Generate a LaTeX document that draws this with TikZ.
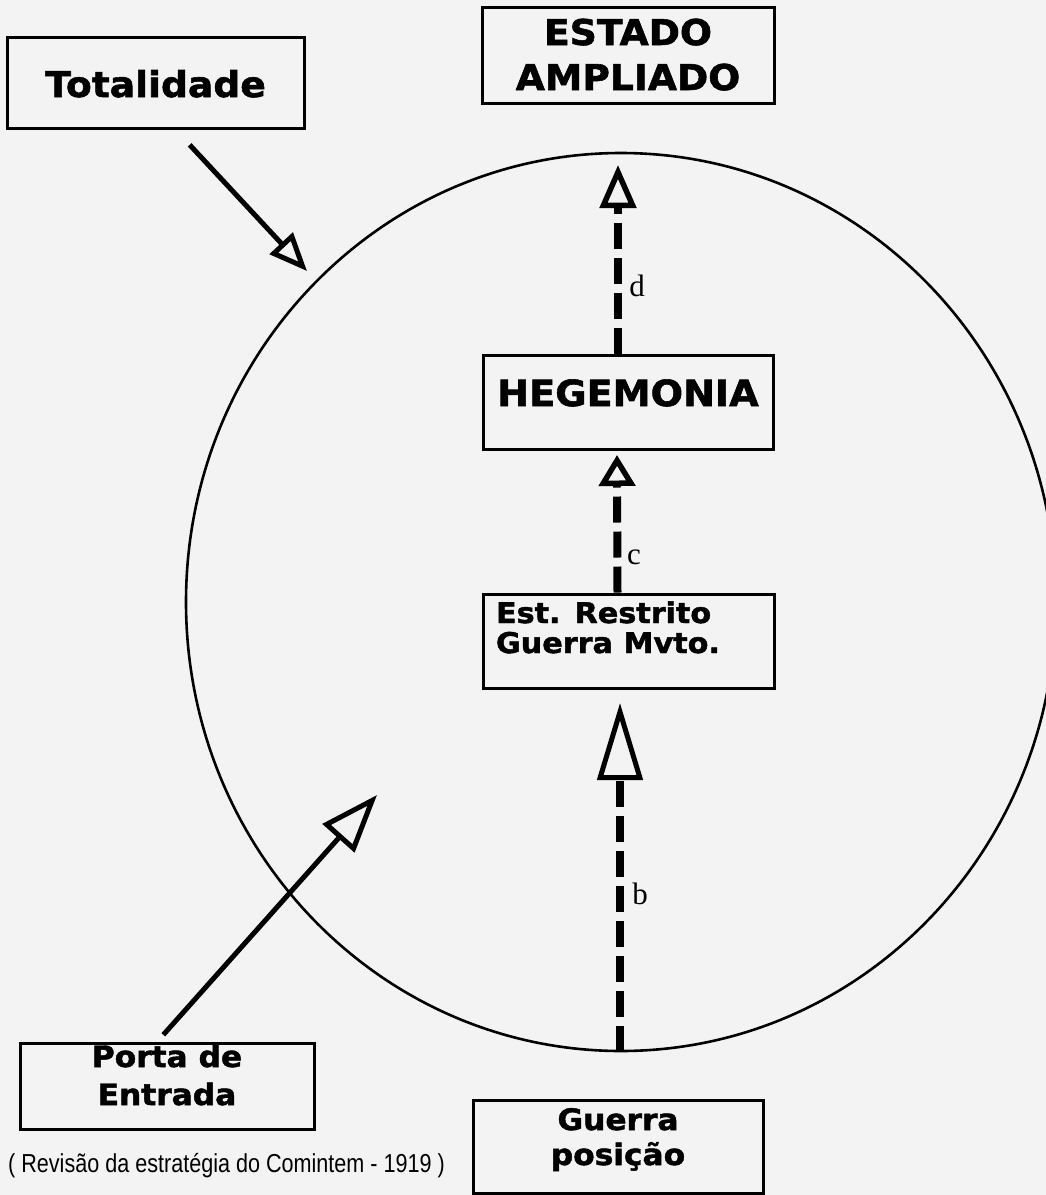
\documentclass[tikz,border=0pt]{standalone}
\usepackage{fontspec}
\usetikzlibrary{arrows.meta,shapes.geometric}
\newfontfamily\heavy[FakeStretch=1.06,FakeBold=1.6]{DejaVu Sans Bold}
\newfontfamily\narrowf[FakeStretch=0.83]{Liberation Sans}
\newfontfamily\lblf{Liberation Serif}
\definecolor{paper}{RGB}{243,243,243}
\begin{document}
\begin{tikzpicture}[x=1pt,y=-1pt,
  bx/.style={draw=black,line width=3pt,inner sep=0pt,fill=paper},
  dsh/.style={line width=8pt,dash pattern=on 26pt off 9pt},
  sld/.style={line width=5pt},
  lbl/.style={font=\lblf\fontsize{31}{34}\selectfont,inner sep=0pt}]
\fill[paper] (0,0) rectangle (1046,1195);
\useasboundingbox (0,0) rectangle (1046,1195);
\clip (0,0) rectangle (1046,1195);

% big ellipse
\node[ellipse,draw=black,line width=2.6pt,minimum width=870pt,minimum height=898pt,inner sep=0pt] (circ) at (621,602) {};

% boxes
\node[bx] (tot) at (155.5,82.5) {\parbox[c][91pt][t]{297pt}{\centering\heavy\fontsize{35.5}{40}\selectfont\rule{0pt}{60pt}Totalidade}};
\node[bx] (est) at (628,55) {\parbox[c][96pt][t]{292pt}{\centering\heavy\fontsize{35.5}{45}\selectfont\rule{0pt}{38pt}ESTADO\\AMPLIADO}};
\node[bx] (heg) at (628,402) {\parbox[c][94pt][t]{290pt}{\centering\heavy\fontsize{36}{40}\selectfont\rule{0pt}{51pt}HEGEMONIA}};
\node[bx] (res) at (628.5,641) {\parbox[c][94pt][t]{291pt}{\raggedright\leftskip=13pt\heavy\fontsize{28.5}{30}\selectfont\rule{0pt}{29pt}Est. Restrito\\Guerra Mvto.}};
\node[bx] (por) at (167,1086) {\parbox[c][86pt][t]{294pt}{\centering\heavy\fontsize{29.5}{38}\selectfont\rule{0pt}{24pt}Porta de\\Entrada}};
\node[bx] (gue) at (618,1146.5) {\parbox[c][93pt][t]{290pt}{\centering\heavy\fontsize{29.5}{35}\selectfont\rule{0pt}{30pt}Guerra\\posição}};

% caption
\node[anchor=base west,inner sep=0pt,font=\narrowf\fontsize{26}{30}\selectfont] (cap) at (8,1172) {( Revisão da estratégia do Comintem - 1919 )};

% free ends
\coordinate (totA) at (174,128);
\coordinate (totT) at (307,271);
\coordinate (porA) at (156,1043);
\coordinate (porT) at (377,795);
\coordinate (dT) at (618,165);
\coordinate (cT) at (617,455);
\coordinate (bT) at (620,703);

% solid arrows
\draw[sld,shorten <=23pt,-{Triangle[open,length=38pt,width=31pt,line width=5pt]}] (totA) -- (totT);
\draw[sld,shorten <=11pt,-{Triangle[open,length=58pt,width=42pt,line width=5pt]}] (porA) -- (porT);

% dashed arrows
\draw[dsh,-{Triangle[open,length=43pt,width=36pt,line width=5.5pt]}] ([xshift=-10pt]heg.north) -- (dT);
\draw[dsh,-{Triangle[open,length=31pt,width=36pt,line width=5.5pt]}] ([xshift=-11pt]res.north) -- (cT);
\draw[dsh,-{Triangle[open,length=77pt,width=45pt,line width=5pt]}] ([xshift=-1pt]circ.south) -- (bT);

% labels
\node[lbl] (ld) at (637,286) {d};
\node[lbl] (lc) at (634,557) {c};
\node[lbl] (lb) at (640,894) {b};
\end{tikzpicture}
\end{document}
